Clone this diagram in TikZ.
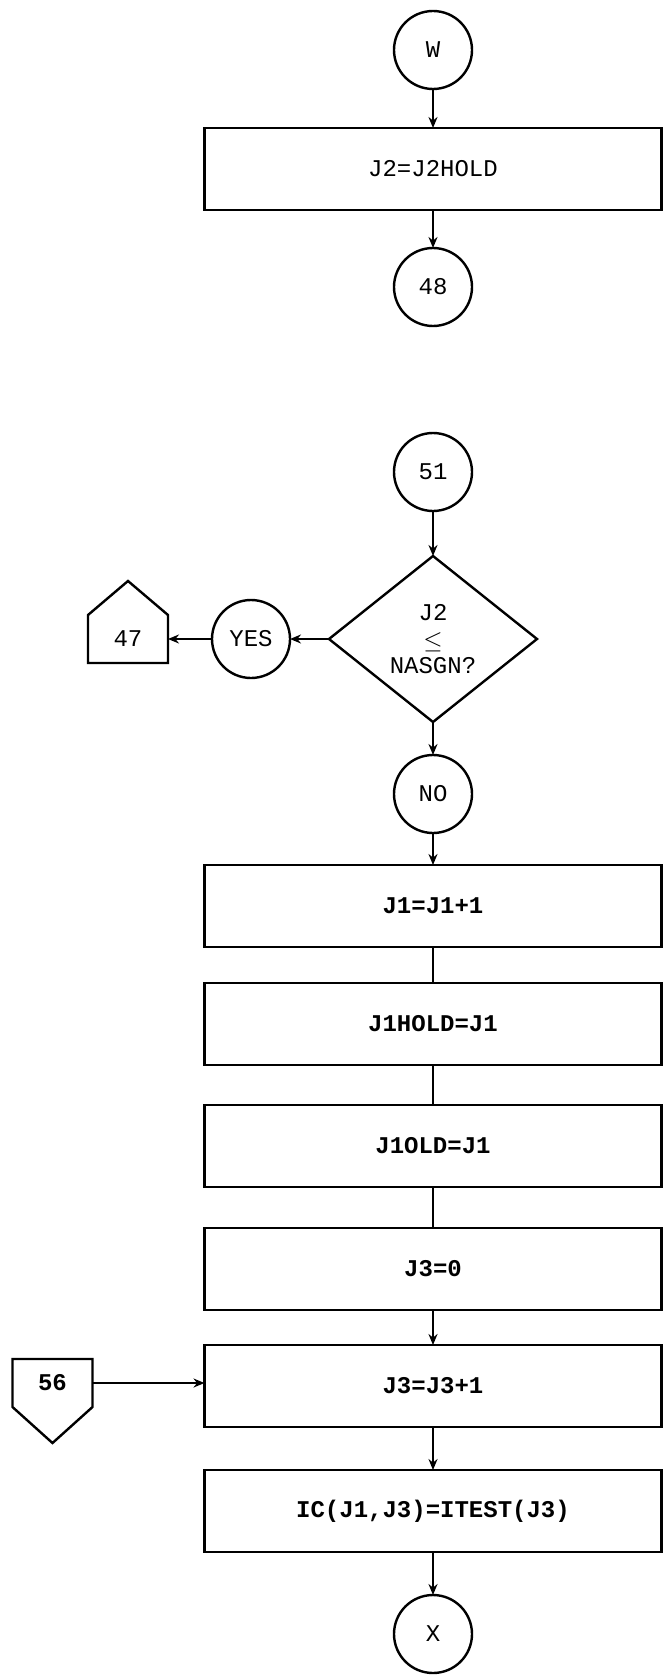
\documentclass[tikz,border=0pt]{standalone}
\usepackage{fontspec}
\setmonofont{Liberation Mono}
\usetikzlibrary{arrows.meta,positioning,shapes.geometric,calc}
\newcommand{\bigtt}{\ttfamily\fontsize{24}{27}\selectfont}
\tikzset{
  box/.style={draw, rectangle, minimum width=457pt, minimum height=82pt, inner sep=0pt, outer sep=0pt, font=\bigtt},
  bbox/.style={box, font=\bigtt\bfseries},
  conn/.style={draw, circle, minimum size=78pt, inner sep=0pt, outer sep=0pt, font=\bigtt},
  dec/.style={draw, diamond, minimum width=208pt, minimum height=166pt, inner sep=0pt, outer sep=0pt, align=center, font=\bigtt},
  pg/.style={minimum width=80pt, minimum height=48pt, inner sep=0pt, outer sep=0pt, font=\bigtt},
  fl/.style={-{Stealth[length=11pt,width=9pt]}},
}
\begin{document}
\begin{tikzpicture}[line width=2.4pt]
  \useasboundingbox (0,0) rectangle (663pt,-1677pt);
  \node[conn] (w) at (433pt,-50pt) {W};
  \node[box, below=39pt of w] (hold) {J2=J2HOLD};
  \node[conn, below=38pt of hold] (c48) {48};
  \foreach \a/\b in {w/hold,hold/c48} \draw[fl] (\a)--(\b);
  % second part
  \node[conn, below=107pt of c48] (c51) {51};
  \node[dec, below=45pt of c51] (test) {J2\\[1pt]$\le$\\[-2pt]NASGN?};
  \node[conn, left=39pt of test] (yes) {YES};
  \node[pg, left=44pt of yes] (p47) {47};
  \draw (p47.south west) -- (p47.north west) -- ($(p47.north)+(0,34pt)$)
    -- (p47.north east) -- (p47.south east) -- cycle;
  \node[conn, below=33pt of test] (no) {NO};
  \node[bbox, below=32pt of no] (inc1) {J1=J1+1};
  \node[bbox, below=36pt of inc1] (keep1) {J1HOLD=J1};
  \node[bbox, below=40pt of keep1] (old1) {J1OLD=J1};
  \node[bbox, below=41pt of old1] (zero3) {J3=0};
  \node[bbox, below=35pt of zero3] (inc3) {J3=J3+1};
  \node[bbox, below=43pt of inc3] (setic) {IC(J1,J3)=ITEST(J3)};
  \node[conn, below=43pt of setic] (cx) {X};
  \node[pg, font=\bigtt\bfseries, left=112pt of inc3, yshift=3pt] (p56) {56};
  \draw (p56.south west) -- (p56.north west) -- (p56.north east)
    -- (p56.south east) -- ($(p56.south)+(0,-36pt)$) -- cycle;
  \foreach \a/\b in {c51/test,test/yes,yes/p47,test/no,no/inc1,zero3/inc3,inc3/setic,setic/cx} \draw[fl] (\a)--(\b);
  \foreach \a/\b in {inc1/keep1,keep1/old1,old1/zero3} \draw (\a)--(\b);
  \draw[fl] (p56.east) -- (p56.east -| inc3.west);
\end{tikzpicture}
\end{document}
